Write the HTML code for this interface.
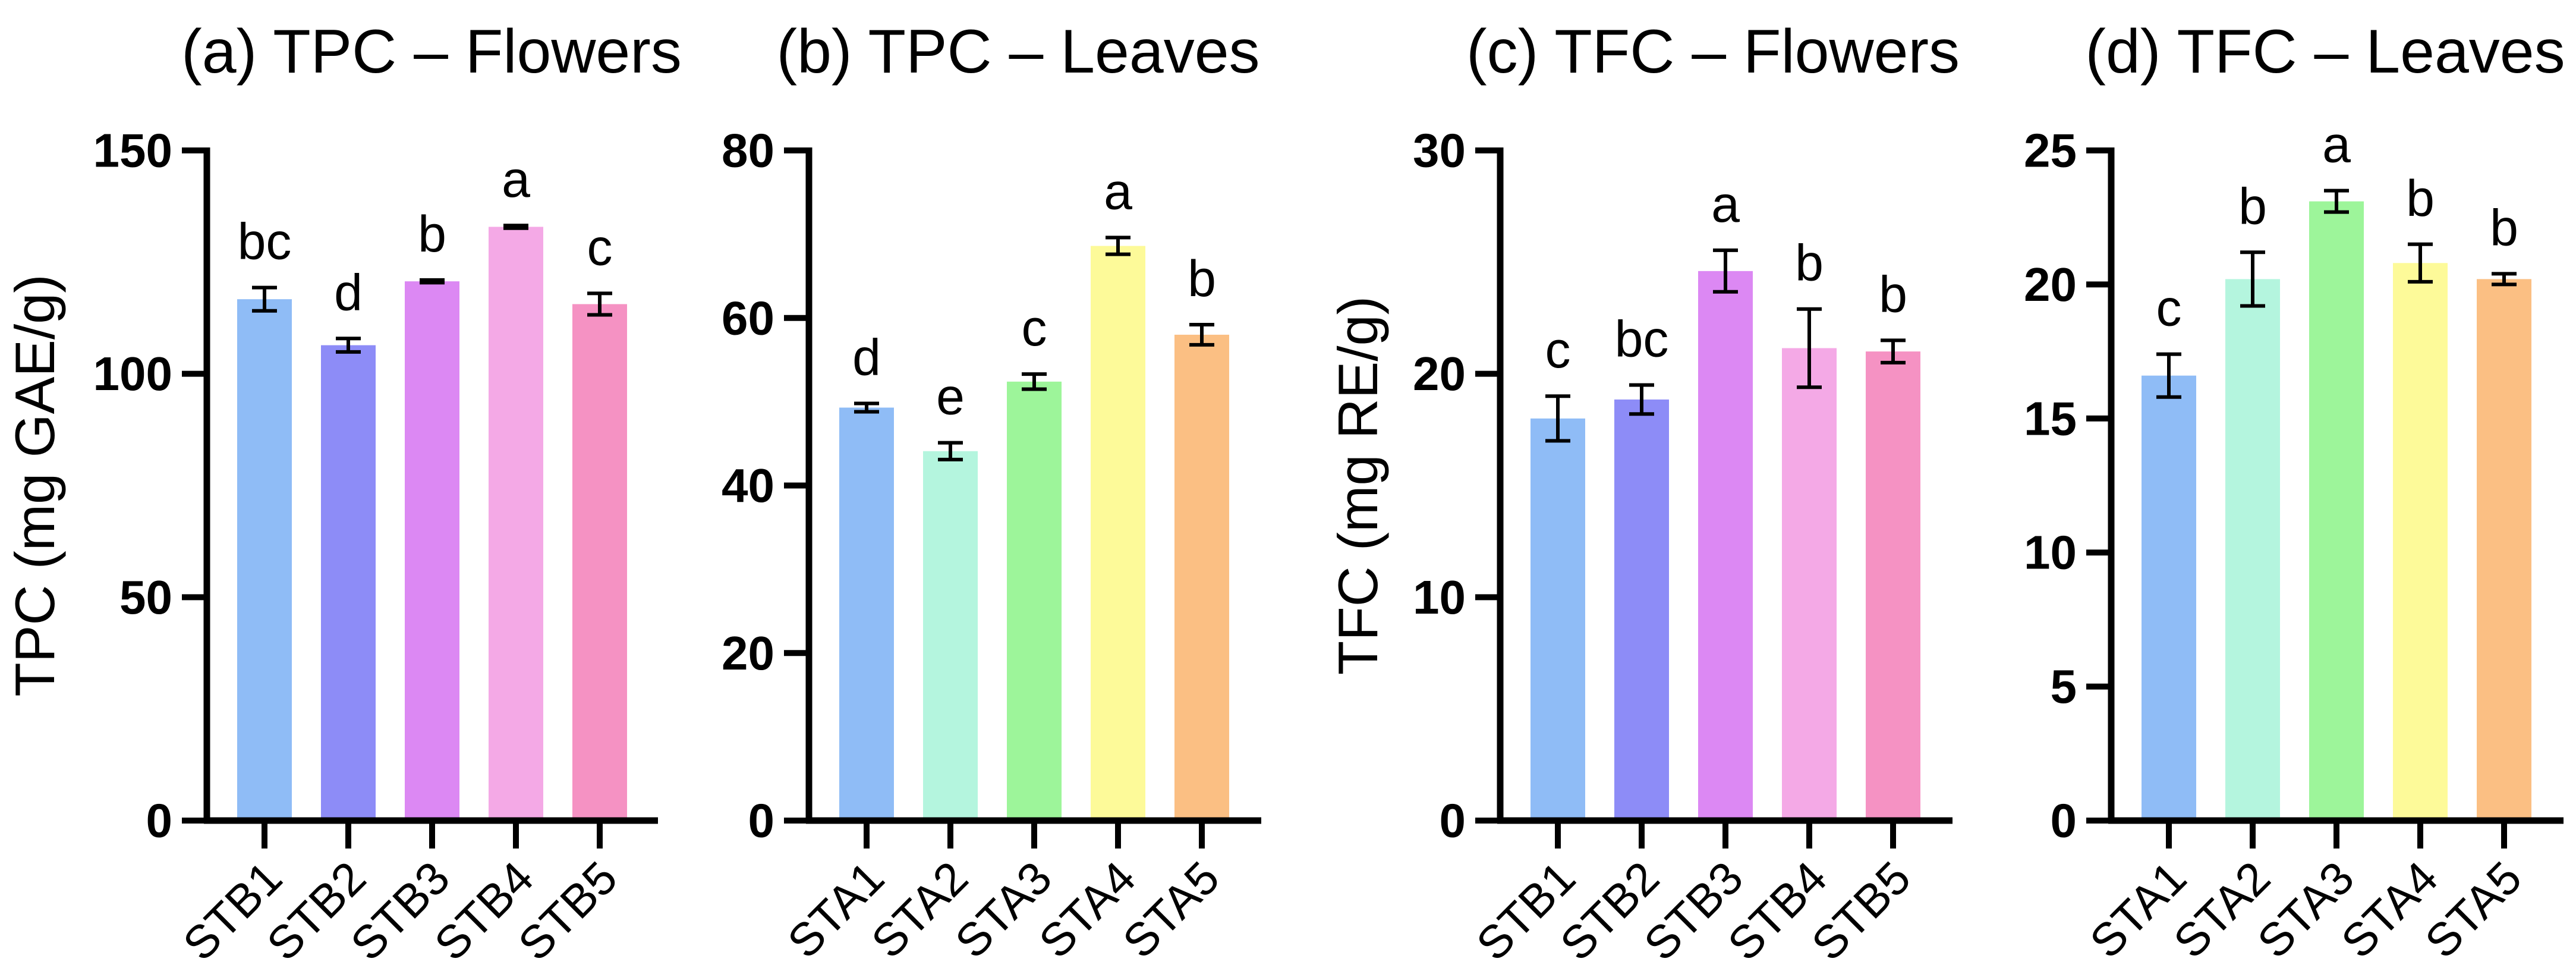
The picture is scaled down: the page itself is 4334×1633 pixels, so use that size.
<!DOCTYPE html>
<html><head><meta charset="utf-8">
<style>
html,body{margin:0;padding:0;background:#fff;}
svg{display:block;}
text{font-family:"Liberation Sans",Arial,sans-serif;}
</style></head>
<body>
<svg id="fig" width="4334" height="1633" viewBox="0 0 4334 1633" xmlns="http://www.w3.org/2000/svg"></svg>
<script>
// ---- data ----
const catsFlowers = ["STB1","STB2","STB3","STB4","STB5"];
const catsLeaves = ["STA1","STA2","STA3","STA4","STA5"];
const tpcFlowers = [116.7,106.4,120.7,132.9,115.6];
const tpcFlowersErr = [2.6,1.5,0.3,0.3,2.4];
const tpcFlowersLetters = ["bc","d","b","a","c"];
const tpcLeaves = [49.3,44.1,52.4,68.6,58.0];
const tpcLeavesErr = [0.5,1.0,0.9,1.0,1.2];
const tpcLeavesLetters = ["d","e","c","a","b"];
const tfcFlowers = [18.0,18.85,24.6,21.15,21.0];
const tfcFlowersErr = [1.0,0.65,0.93,1.75,0.5];
const tfcFlowersLetters = ["c","bc","a","b","b"];
const tfcLeaves = [16.6,20.2,23.1,20.8,20.2];
const tfcLeavesErr = [0.8,1.0,0.4,0.7,0.2];
const tfcLeavesLetters = ["c","b","a","b","b"];
const ticksA = [0,50,100,150];
const ticksB = [0,20,40,60,80];
const ticksC = [0,10,20,30];
const ticksD = [0,5,10,15,20,25];
const colorsFlowers = ["#8fbcf6","#8d8cf7","#dc88f3","#f4a9e6","#f592c3"];
const colorsLeaves = ["#8fbcf6","#b4f5de","#9df59a","#fdfa99","#fbbf83"];

const NS="http://www.w3.org/2000/svg";
const svg=document.getElementById('fig');
function mk(tag,attrs,parent){const e=document.createElementNS(NS,tag);for(const k in attrs)e.setAttribute(k,attrs[k]);(parent||svg).appendChild(e);return e;}

const panels=[
 {id:"a",title:"(a) TPC – Flowers",titleX:726,ax:348,end:1107,max:150,ticks:ticksA,cats:catsFlowers,vals:tpcFlowers,err:tpcFlowersErr,let:tpcFlowersLetters,col:colorsFlowers,ytitle:"TPC (mg GAE/g)",ytx:66},
 {id:"b",title:"(b) TPC – Leaves",titleX:1713,ax:1361,end:2122,max:80,ticks:ticksB,cats:catsLeaves,vals:tpcLeaves,err:tpcLeavesErr,let:tpcLeavesLetters,col:colorsLeaves},
 {id:"c",title:"(c) TFC – Flowers",titleX:2882,ax:2524,end:3285,max:30,ticks:ticksC,cats:catsFlowers,vals:tfcFlowers,err:tfcFlowersErr,let:tfcFlowersLetters,col:colorsFlowers,ytitle:"TFC (mg RE/g)",ytx:2292},
 {id:"d",title:"(d) TFC – Leaves",titleX:3912,ax:3552,end:4313,max:25,ticks:ticksD,cats:catsLeaves,vals:tfcLeaves,err:tfcLeavesErr,let:tfcLeavesLetters,col:colorsLeaves}
];
const topY=253, zeroY=1380, step=141, firstOff=97, barW=92, capW=42;

panels.forEach(p=>{
  const g=mk('g',{});
  
  
  const y=v=>zeroY-(v/p.max)*(zeroY-topY);
  const x=i=>p.ax+firstOff+i*step;
  const t=mk('text',{x:p.titleX,y:122,'text-anchor':'middle','font-size':104},g);
  t.textContent=p.title;
  
  
  if(p.ytitle){
    const cy=(topY+zeroY)/2;
    const yt=mk('text',{x:p.ytx,y:cy,'text-anchor':'middle','dominant-baseline':'middle','font-size':94,transform:`rotate(-90 ${p.ytx} ${cy})`},g);
    yt.textContent=p.ytitle;
    
    
  }
  p.vals.forEach((v,i)=>{
    const r=mk('rect',{x:x(i)-barW/2,y:y(v),width:barW,height:zeroY-y(v),fill:p.col[i]},g);
    
    
    const e=p.err[i];
    const eg=mk('g',{stroke:'#000','stroke-width':6},g);
    
    
    mk('line',{x1:x(i),x2:x(i),y1:y(v+e),y2:y(v-e)},eg);
    mk('line',{x1:x(i)-capW/2,x2:x(i)+capW/2,y1:y(v+e),y2:y(v+e)},eg);
    mk('line',{x1:x(i)-capW/2,x2:x(i)+capW/2,y1:y(v-e),y2:y(v-e)},eg);
    const lt=mk('text',{x:x(i),y:y(v+e)-48,'text-anchor':'middle','font-size':86},g);
    lt.textContent=p.let[i];
    
    
    mk('line',{x1:x(i),x2:x(i),y1:zeroY,y2:zeroY+47,stroke:'#000','stroke-width':10},g);
    const xl=mk('text',{x:x(i)+34,y:1482,'text-anchor':'end','font-size':78,transform:`rotate(-45 ${x(i)+34} 1482)`},g);
    xl.textContent=p.cats[i];
    
    
  });
  const ya=mk('line',{x1:p.ax,x2:p.ax,y1:topY-5,y2:zeroY+5,stroke:'#000','stroke-width':11},g);
  
  
  const xa=mk('line',{x1:p.ax-5,x2:p.end,y1:zeroY,y2:zeroY,stroke:'#000','stroke-width':11},g);
  
  
  p.ticks.forEach(tv=>{
    mk('line',{x1:p.ax-42,x2:p.ax,y1:y(tv),y2:y(tv),stroke:'#000','stroke-width':10},g);
    const tl=mk('text',{x:p.ax-58,y:y(tv),'text-anchor':'end','dominant-baseline':'central','font-size':80,'font-weight':'bold'},g);
    tl.textContent=tv;
    
    
  });
});
</script>
</body></html>
